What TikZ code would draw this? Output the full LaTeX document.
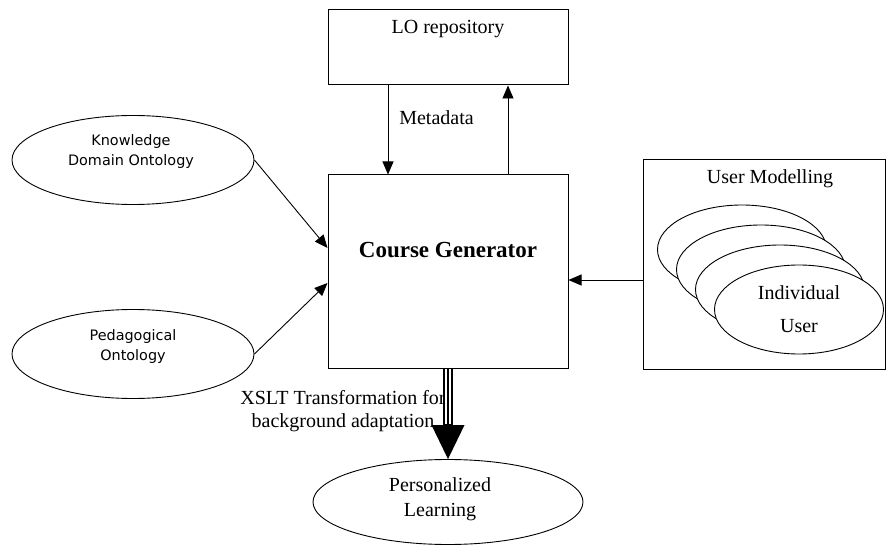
\documentclass[tikz,border=0pt]{standalone}
\usepackage{fontspec}
\setmainfont{Liberation Serif}
\newfontfamily\ontofont{DejaVu Sans}
\usetikzlibrary{positioning}
\usetikzlibrary{calc}
\usetikzlibrary{shapes.geometric}
\usetikzlibrary{arrows.meta}

\tikzset{
  box/.style={draw, rectangle, line width=1pt, inner sep=0pt},
  onto/.style={draw, ellipse, line width=0.9pt, minimum width=242pt, minimum height=89pt, inner sep=0pt},
  user/.style={draw, ellipse, fill=white, line width=0.9pt, minimum width=169pt, minimum height=89pt, inner sep=0pt},
  txt/.style={font=\fontsize{20}{23}\selectfont, align=center, inner sep=0pt},
  sanstxt/.style={font=\ontofont\fontsize{14.4}{20}\selectfont, align=center, inner sep=0pt},
  link/.style={line width=0.9pt, -{Triangle[length=13pt,width=11pt]}}
}

\begin{document}
\begin{tikzpicture}[x=1pt, y=-1pt]
\useasboundingbox (0,0) rectangle (886,545);

% boxes
\node[box, minimum width=240pt, minimum height=75pt] (lo) at (448,47.5) {};
\node[txt] (lotext) at (448,29) {LO repository};
\node[box, minimum width=240pt, minimum height=193pt] (cg) at (448,271.5) {};
\node[txt, font=\bfseries\fontsize{23}{26}\selectfont] (cgtext) at (448,250) {Course Generator};
\node[box, minimum width=242pt, minimum height=209pt] (um) at (764,264.5) {};
\node[txt] (umtext) at (770,179) {User Modelling};

% ontologies
\node[onto] (kdo) at (133,160) {};
\node[sanstxt] (kdotext) at (131,152) {Knowledge\\Domain Ontology};
\node[onto] (ped) at (133,354) {};
\node[sanstxt] (pedtext) at (133,346.5) {Pedagogical\\Ontology};

% user stack
\foreach \i in {1,...,4}
  \node[user] (u\i) at (723+19*\i,229.5+20*\i) {};
\node[txt, font=\fontsize{20}{33}\selectfont] (u4text) at (u4) {Individual\\User};

% output
\node[onto, minimum width=270pt, minimum height=85pt] (pl) at (448,502) {};
\node[txt, font=\fontsize{20}{25}\selectfont] (pltext) at (440,499.5) {Personalized\\Learning};

% connectors
\draw[link] ($(lo.south)+(-60,0)$) -- ($(cg.north)+(-60,0)$);
\node[txt] (meta) at (436.5,118) {Metadata};
\draw[link] ($(cg.north)+(60,0)$) -- ($(lo.south)+(60,0)$);
\draw[link] (kdo.east) -- ($(cg.west)+(0,-23.5)$);
\draw[link] (ped.east) -- ($(cg.west)+(0,11.5)$);
\coordinate (umin) at ($(um.west)+(0,15.5)$);
\draw[link] (umin) -- (umin -| cg.east);

\node[txt] (xslt) at (343,411) {XSLT Transformation for\\background adaptation};
\draw[line width=10pt, -{Triangle[length=34pt,width=33pt,line width=0pt]}] (cg.south) -- (pl.north);
\coordinate (cgout) at ($(cg.south)+(0,0.5)$);
\coordinate (plhead) at ($(pl.north)+(0,-35)$);
\draw[white, line width=6pt] (cgout) -- (plhead);
\draw[line width=2pt] (cgout) -- (plhead);
\end{tikzpicture}
\end{document}
